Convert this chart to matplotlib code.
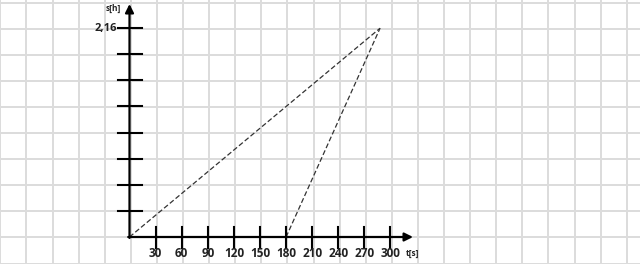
import matplotlib
matplotlib.use("Agg")
import matplotlib.pyplot as plt
import numpy as np

# Data
x_ticks = [30, 60, 90, 120, 150, 180, 210, 240, 270, 300]
x_tick_labels = [str(v) for v in x_ticks]
y_tick_step = 0.27
y_ticks = [y_tick_step * i for i in range(1, 9)]
y_tick_labels = ["", "", "", "", "", "", "", "2,16"]
line1_t = [0, 288]
line1_s = [0, 2.16]
line2_t = [180, 288]
line2_s = [0, 2.16]
x_label = "t[s]"
y_label = "s[h]"

W, H = 640, 264
dpi = 100
fig = plt.figure(figsize=(W / dpi, H / dpi), dpi=dpi)
ax = fig.add_axes([0, 0, 1, 1])
ax.set_axis_off()

ox, oy = 129.5, 237.0          # pixel of origin
pxx = 26.1 / 30.0              # px per unit t
pxy = 26.1 / 0.27              # px per unit s
ax.set_xlim(-ox / pxx, (W - ox) / pxx)
ax.set_ylim(-(H - oy) / pxy, oy / pxy)

# background paper grid
grid_col = "#dcdcdc"
for j in range(-6, 25):
    ax.axvline(30 * j + 1.6, color=grid_col, lw=1.4, zorder=0)
for i in range(-3, 12):
    ax.axhline(0.27 * i - 0.005, color=grid_col, lw=1.4, zorder=0)

# axes with arrows
x_end = (413 - ox) / pxx
y_end = (oy - 4) / pxy
ax.annotate("", xy=(x_end, 0), xytext=(-1.5, 0),
            arrowprops=dict(arrowstyle="-|>,head_length=0.5,head_width=0.25",
                            color="black", lw=1.6, shrinkA=0, shrinkB=0), zorder=3)
ax.annotate("", xy=(0, y_end), xytext=(0, -0.01),
            arrowprops=dict(arrowstyle="-|>,head_length=0.5,head_width=0.25",
                            color="black", lw=1.6, shrinkA=0, shrinkB=0), zorder=3)

# ticks
tx = 10.5 / pxy
for t, lab in zip(x_ticks, x_tick_labels):
    ax.plot([t, t], [-tx, tx], color="black", lw=1.5, zorder=3)
    ax.text(t, -16.5 / pxy, lab, ha="center", va="center", fontsize=8.5,
            fontweight="bold", family="Open Sans", color="#222222")
ty = 12 / pxx
for s, lab in zip(y_ticks, y_tick_labels):
    ax.plot([-ty, ty], [s, s], color="black", lw=1.5, zorder=3)
    if lab:
        ax.text(-ty - 1, s, lab, ha="right", va="center", fontsize=8,
                fontweight="bold", family="Open Sans", color="#222222")

ax.text(x_end - 1, -16.5 / pxy, x_label, ha="center", va="center", fontsize=6,
        fontweight="bold", family="Open Sans", color="#222222")
ax.text(-ty - 5, y_end - 4.5 / pxy, y_label, ha="center", va="center", fontsize=6,
        fontweight="bold", family="Open Sans", color="#222222")

# dashed lines
ax.plot(line1_t, line1_s, color="#333333", lw=0.9, ls=(0, (4, 2)), zorder=2)
ax.plot(line2_t, line2_s, color="#333333", lw=0.9, ls=(0, (4, 2)), zorder=2)

fig.savefig("out.png", dpi=dpi, facecolor="white")
